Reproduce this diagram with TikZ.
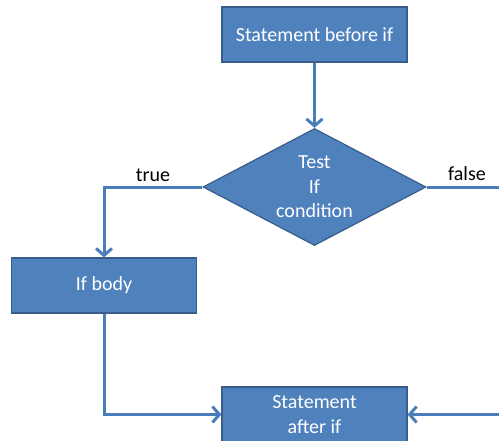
\documentclass[tikz,border=0pt]{standalone}
\usepackage{fontspec}
\setmainfont{Carlito}
\usetikzlibrary{arrows.meta,shapes.geometric}
\definecolor{boxfill}{HTML}{4F81BD}
\definecolor{boxedge}{HTML}{385D8A}
\definecolor{flowline}{HTML}{4A7EBB}
\tikzset{
  stepbox/.style={draw=boxedge, line width=1.2pt, fill=boxfill, text=white,
    minimum width=185pt, minimum height=55pt, inner sep=0pt, align=center,
    font=\fontsize{20}{24.5}\selectfont},
  decision/.style={draw=boxedge, line width=1.2pt, fill=boxfill, diamond,
    minimum width=223pt, minimum height=117pt, inner sep=0pt},
  decisiontext/.style={text=white, align=center, inner sep=0pt,
    font=\fontsize{20}{24.5}\selectfont},
  flow/.style={draw=flowline, line width=3pt, line join=miter,
    -{Straight Barb[length=7pt,width=16pt,line width=3pt]}},
  plain/.style={draw=flowline, line width=3pt, line join=miter},
  lbl/.style={font=\fontsize{20}{22}\selectfont, text=black}
}
\begin{document}
\begin{tikzpicture}[x=1pt,y=-1pt]
\useasboundingbox (0,0) rectangle (499,440);
\clip (0,0) rectangle (499,440);

\node[stepbox] (before) at (314.5,34.5) {Statement before if};
\node[decision] (test) at (314.5,187) {};
\node[decisiontext] (testtext) at (test.center) {Test\\If\\condition};
\node[stepbox] (body) at (104,285.5) {If body};
\node[stepbox] (after) at (314.5,414.5) {Statement\\after if};

\coordinate (falseout) at (520,187);
\coordinate (falsein) at (520,414.5);

\draw[flow] (before.south) -- (test.north);
\draw[flow] (test.west) -| (body.north);
\draw[flow] (body.south) |- (after.west);
\draw[plain] (test.east) -- (falseout);
\draw[flow] (falsein) -- (after.east);

\node[lbl] (truelbl) at (153,175) {true};
\node[lbl] (falselbl) at (467,174) {false};
\end{tikzpicture}
\end{document}
